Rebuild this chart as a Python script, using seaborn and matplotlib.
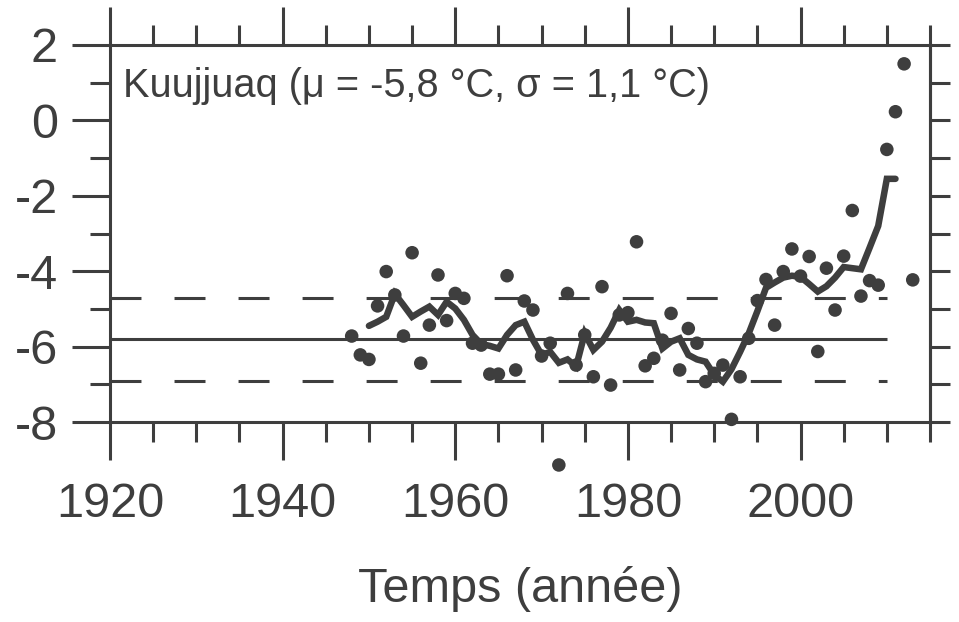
import matplotlib
matplotlib.use('Agg')
import matplotlib.pyplot as plt
import seaborn as sns
import pandas as pd
from matplotlib.ticker import MultipleLocator

# températures annuelles (points)
annees = list(range(1948, 2014))
temperature = [-5.72, -6.22, -6.34, -4.92, -4.01, -4.63, -5.72, -3.51, -6.44, -5.43,
               -4.10, -5.31, -4.59, -4.72, -5.91, -5.96, -6.73, -6.73, -4.12, -6.62,
               -4.79, -5.03, -6.25, -5.91, -9.14, -4.59, -6.49, -5.69, -6.80, -4.41,
               -7.02, -5.16, -5.10, -3.22, -6.51, -6.31, -5.83, -5.12, -6.62, -5.52,
               -5.91, -6.93, -6.71, -6.49, -7.93, -6.80, -5.78, -4.78, -4.22, -5.43,
               -4.01, -3.41, -4.13, -3.61, -6.13, -3.92, -5.03, -3.60, -2.39, -4.66,
               -4.25, -4.37, -0.77, 0.23, 1.50, -4.23]

# moyenne mobile (ligne épaisse)
annees_moy = list(range(1950, 2012))
moyenne_mobile = [-5.45, -5.34, -5.21, -4.60, -4.90, -5.21, -5.07, -4.94, -5.16, -4.81,
                  -4.99, -5.29, -5.69, -5.93, -5.98, -6.05, -5.69, -5.43, -5.34, -5.82,
                  -6.22, -6.14, -6.43, -6.34, -6.53, -5.65, -6.09, -5.87, -5.50, -5.03,
                  -5.34, -5.29, -5.36, -5.38, -6.05, -5.87, -5.78, -6.22, -6.34, -6.40,
                  -6.75, -6.93, -6.60, -6.14, -5.65, -5.06, -4.44, -4.30, -4.17, -4.12,
                  -4.15, -4.34, -4.54, -4.40, -4.17, -3.89, -3.92, -3.95, -3.38, -2.80,
                  -1.55, -1.55]

mu = -5.8
sigma = 1.1
debut_ref, fin_ref = 1920, 2010

gris = '#3e3e3e'
sns.set_style('ticks')
plt.rcParams['font.family'] = ['Liberation Sans', 'DejaVu Sans']
plt.rcParams['lines.scale_dashes'] = False
plt.rcParams['axes.unicode_minus'] = False

df = pd.DataFrame({'annee': annees, 'temp': temperature})
df_moy = pd.DataFrame({'annee': annees_moy, 'temp': moyenne_mobile})

fig = plt.figure(figsize=(9.59, 6.22), dpi=100)
ax = fig.add_axes([110/959, 1 - 422/622, 820/959, 377/622])

ax.hlines(mu, debut_ref, fin_ref, colors=gris, lw=2.2)
for niveau in (mu + sigma, mu - sigma):
    ax.hlines(niveau, debut_ref, fin_ref, colors=gris, lw=2.2,
              linestyles=(0, (22.3, 23.8)))

sns.lineplot(data=df_moy, x='annee', y='temp', ax=ax, color=gris, lw=4.7,
             solid_joinstyle='miter')
sns.scatterplot(data=df, x='annee', y='temp', ax=ax, color=gris, s=95,
                edgecolor='none', linewidth=0, clip_on=False, zorder=3)

ax.set_xlim(1920, 2015)
ax.set_ylim(-8, 2)
ax.xaxis.set_major_locator(MultipleLocator(20))
ax.xaxis.set_minor_locator(MultipleLocator(5))
ax.yaxis.set_major_locator(MultipleLocator(2))
ax.yaxis.set_minor_locator(MultipleLocator(1))

ax.tick_params(which='both', direction='out', width=2.2, color=gris,
               top=True, right=False, labelsize=35, labelcolor=gris)
ax.tick_params(which='major', length=27.5)
ax.tick_params(which='minor', length=14.4)
ax.tick_params(axis='y', pad=10)
ax.tick_params(axis='x', pad=16)

sec = ax.secondary_yaxis('right')
sec.set_yticks(range(-8, 3))
sec.tick_params(direction='out', length=14.4, width=2.2, color=gris, labelright=False)
sec.spines['right'].set_color(gris)
sec.spines['right'].set_linewidth(2.2)

for s in ax.spines.values():
    s.set_color(gris)
    s.set_linewidth(2.2)

ax.set_xlabel('Temps (année)', fontsize=35, color=gris, labelpad=28)
ax.set_ylabel('')

texte = f'Kuujjuaq (μ = {mu:.1f} °C, σ = {sigma:.1f} °C)'.replace('.', ',')
ax.text(0.016, 0.862, texte, transform=ax.transAxes, fontsize=28.6, color=gris,
        va='baseline')

fig.savefig('out.png', dpi=100)
